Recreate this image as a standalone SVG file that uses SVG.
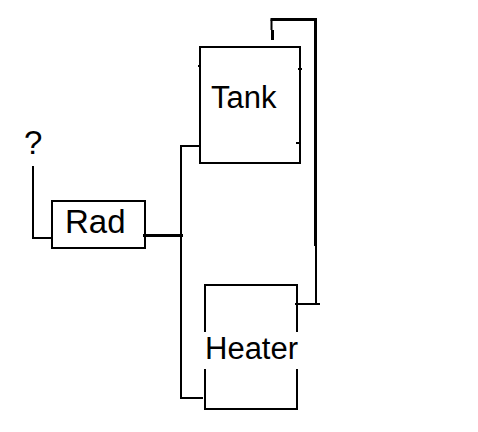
<svg xmlns="http://www.w3.org/2000/svg" width="478" height="432" viewBox="0 0 478 432">
<style>
.b{fill:none;stroke:#000;stroke-width:2}
.t{fill:none;stroke:#000;stroke-width:3}
text{font-family:"Liberation Sans",Arial,sans-serif;font-size:31px;fill:#000}
</style>
<rect width="478" height="432" fill="#fff"/>
<g id="connectors">
<path class="b" d="M33 166V238H52"/>
<path class="t" d="M143 235.500H183"/>
<path class="b" d="M200 146H181V398H203"/>
<path class="t" d="M272.500 40V30"/>
<path class="b" d="M271.500 30V19.500"/>
<path class="t" d="M270.500 19.500H315.500V246"/>
<path class="b" d="M316 246V304"/>
<path class="b" d="M295 304H320"/>
<path class="b" d="M198 66H200M298 69H302M296 143H300"/>
</g>
<g id="tank">
<rect class="b" x="200" y="47" width="100" height="116"/>
<text x="211" y="108">Tank</text>
</g>
<g id="rad">
<rect class="b" x="52" y="201" width="93" height="47"/>
<text x="65" y="233" style="font-size:33px">Rad</text>
</g>
<g id="heater">
<path class="b" d="M205 332V285H297V332M205 369V409H297V369"/>
<text x="205" y="359">Heater</text>
</g>
<g id="question">
<text x="24" y="154" style="font-size:33px">?</text>
</g>
</svg>
